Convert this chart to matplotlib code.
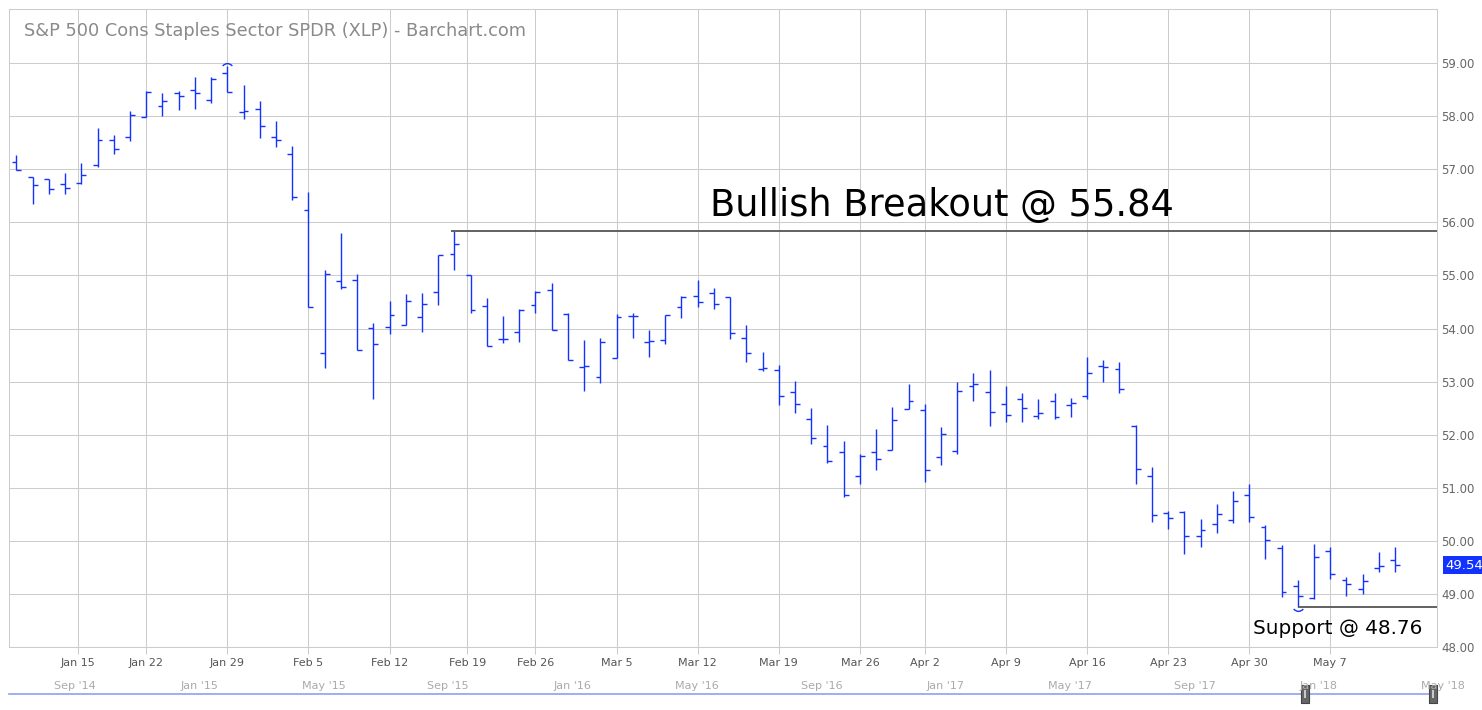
import numpy as np
import pandas as pd
import matplotlib
matplotlib.use("Agg")
import matplotlib.pyplot as plt
from matplotlib.path import Path

# XLP daily bars, Jan 9 - May 11 2018
dates = pd.to_datetime([
    "2018-01-09", "2018-01-10", "2018-01-11", "2018-01-12",
    "2018-01-16", "2018-01-17", "2018-01-18", "2018-01-19",
    "2018-01-22", "2018-01-23", "2018-01-24", "2018-01-25", "2018-01-26",
    "2018-01-29", "2018-01-30", "2018-01-31", "2018-02-01", "2018-02-02",
    "2018-02-05", "2018-02-06", "2018-02-07", "2018-02-08", "2018-02-09",
    "2018-02-12", "2018-02-13", "2018-02-14", "2018-02-15", "2018-02-16",
    "2018-02-20", "2018-02-21", "2018-02-22", "2018-02-23",
    "2018-02-26", "2018-02-27", "2018-02-28", "2018-03-01", "2018-03-02",
    "2018-03-05", "2018-03-06", "2018-03-07", "2018-03-08", "2018-03-09",
    "2018-03-12", "2018-03-13", "2018-03-14", "2018-03-15", "2018-03-16",
    "2018-03-19", "2018-03-20", "2018-03-21", "2018-03-22", "2018-03-23",
    "2018-03-26", "2018-03-27", "2018-03-28", "2018-03-29",
    "2018-04-02", "2018-04-03", "2018-04-04", "2018-04-05", "2018-04-06",
    "2018-04-09", "2018-04-10", "2018-04-11", "2018-04-12", "2018-04-13",
    "2018-04-16", "2018-04-17", "2018-04-18", "2018-04-19", "2018-04-20",
    "2018-04-23", "2018-04-24", "2018-04-25", "2018-04-26", "2018-04-27",
    "2018-04-30", "2018-05-01", "2018-05-02", "2018-05-03", "2018-05-04",
    "2018-05-07", "2018-05-08", "2018-05-09", "2018-05-10", "2018-05-11",
])

opens = [57.13, 56.85, 56.82, 56.72, 56.75, 57.09, 57.55, 57.60,
         57.99, 58.19, 58.43, 58.49, 58.31, 58.81, 58.08, 58.13, 57.60, 57.28,
         56.23, 53.53, 54.89, 54.91, 54.01, 54.03, 54.06, 54.22, 54.68, 55.40,
         55.00, 54.42, 53.80, 53.93, 54.44, 54.72, 54.28, 53.27, 53.08,
         53.44, 54.23, 53.74, 53.78, 54.40, 54.61, 54.66, 54.59, 53.83, 53.24,
         53.22, 52.80, 52.29, 51.78, 51.67, 51.23, 51.67, 51.72, 52.48,
         52.46, 51.58, 51.69, 52.91, 52.80, 52.57, 52.68, 52.35, 52.63, 52.55,
         52.72, 53.29, 53.23, 52.16, 51.22, 50.52, 50.54, 50.09, 50.32, 50.39,
         50.86, 50.26, 49.86, 49.14, 48.93, 49.81, 49.27, 49.09, 49.48, 49.64]
highs = [57.27, 56.85, 56.82, 56.93, 57.12, 57.78, 57.64, 58.10,
         58.47, 58.44, 58.47, 58.74, 58.73, 58.94, 58.59, 58.28, 57.91, 57.44,
         56.57, 55.11, 55.80, 55.02, 54.10, 54.52, 54.65, 54.67, 55.38, 55.84,
         55.00, 54.57, 54.23, 54.36, 54.71, 54.86, 54.30, 53.78, 53.82,
         54.27, 54.29, 53.97, 54.25, 54.61, 54.91, 54.76, 54.59, 54.07, 53.56,
         53.31, 53.01, 52.50, 52.18, 51.88, 51.64, 52.11, 52.53, 52.95,
         52.58, 52.14, 53.00, 53.16, 53.22, 52.92, 52.78, 52.67, 52.78, 52.69,
         53.46, 53.41, 53.37, 52.19, 51.39, 50.57, 50.57, 50.41, 50.69, 50.94,
         51.08, 50.29, 49.92, 49.26, 49.94, 49.88, 49.31, 49.37, 49.79, 49.88]
lows = [56.98, 56.34, 56.54, 56.54, 56.73, 57.05, 57.29, 57.54,
        57.99, 58.01, 58.12, 58.14, 58.25, 58.45, 57.95, 57.59, 57.42, 56.43,
        54.41, 53.25, 54.74, 53.59, 52.67, 53.90, 54.06, 53.94, 54.45, 55.11,
        54.29, 53.68, 53.73, 53.75, 54.30, 53.97, 53.40, 52.83, 52.98,
        53.44, 53.83, 53.47, 53.71, 54.20, 54.41, 54.37, 53.81, 53.37, 53.20,
        52.55, 52.41, 51.83, 51.47, 50.82, 51.08, 51.34, 51.72, 52.48,
        51.11, 51.42, 51.64, 52.64, 52.17, 52.24, 52.24, 52.30, 52.30, 52.34,
        52.67, 53.00, 52.79, 51.08, 50.35, 50.22, 49.76, 49.89, 50.15, 50.34,
        50.36, 49.66, 48.94, 48.76, 48.90, 49.28, 48.97, 49.00, 49.42, 49.41]
closes = [56.98, 56.70, 56.62, 56.64, 56.90, 57.55, 57.38, 58.02,
          58.46, 58.28, 58.39, 58.43, 58.71, 58.46, 58.10, 57.81, 57.56, 56.47,
          54.41, 55.02, 54.78, 53.59, 53.71, 54.25, 54.51, 54.47, 55.38, 55.59,
          54.35, 53.68, 53.81, 54.35, 54.68, 53.97, 53.40, 53.29, 53.74,
          54.21, 54.24, 53.76, 54.25, 54.59, 54.50, 54.46, 53.91, 53.53, 53.25,
          52.73, 52.57, 51.93, 51.50, 50.86, 51.60, 51.55, 52.27, 52.63,
          51.33, 52.01, 52.82, 52.95, 52.42, 52.38, 52.50, 52.40, 52.33, 52.60,
          53.16, 53.27, 52.87, 51.35, 50.48, 50.43, 50.10, 50.20, 50.51, 50.76,
          50.44, 50.01, 49.03, 48.97, 49.69, 49.37, 49.18, 49.24, 49.53, 49.54]

week_labels = ["Jan 15", "Jan 22", "Jan 29", "Feb 5", "Feb 12", "Feb 19",
               "Feb 26", "Mar 5", "Mar 12", "Mar 19", "Mar 26", "Apr 2",
               "Apr 9", "Apr 16", "Apr 23", "Apr 30", "May 7"]
week_dates = pd.to_datetime(["2018-01-15", "2018-01-22", "2018-01-29",
                             "2018-02-05", "2018-02-12", "2018-02-19",
                             "2018-02-26", "2018-03-05", "2018-03-12",
                             "2018-03-19", "2018-03-26", "2018-04-02",
                             "2018-04-09", "2018-04-16", "2018-04-23",
                             "2018-04-30", "2018-05-07"])

nav_labels = ["Sep '14", "Jan '15", "May '15", "Sep '15", "Jan '16", "May '16",
              "Sep '16", "Jan '17", "May '17", "Sep '17", "Jan '18", "May '18"]

breakout = 55.84
support = 48.76
last_price = 49.54

bar_color = "#1232ff"
grid_color = "#cccccc"

idx = np.arange(len(dates))
opens = np.array(opens)
highs = np.array(highs)
lows = np.array(lows)
closes = np.array(closes)

# week ticks: first trading day of the week, nudged left if Monday was a holiday
tick_pos = []
for d in week_dates:
    i = int(np.searchsorted(dates.values, np.datetime64(d)))
    tick_pos.append(i if dates[i] == d else i - 0.2)

W, H = 1482, 710
fig = plt.figure(figsize=(W / 100, H / 100), dpi=100)
ax = fig.add_axes([9 / W, 1 - 647 / H, (1437 - 9) / W, (647 - 9) / H])

# OHLC bars
ax.vlines(idx, lows, highs, color=bar_color, linewidth=1.0)
ax.hlines(opens, idx - 0.3, idx, color=bar_color, linewidth=1.0)
ax.hlines(closes, idx, idx + 0.3, color=bar_color, linewidth=1.0)

# little arcs marking the high and low of the period
arc_up = Path([(-1, -0.3), (0, 0.7), (1, -0.3)], [Path.MOVETO, Path.CURVE3, Path.CURVE3])
arc_dn = Path([(-1, 0.3), (0, -0.7), (1, 0.3)], [Path.MOVETO, Path.CURVE3, Path.CURVE3])
hi = int(np.argmax(highs))
lo = int(np.argmin(lows))
ax.plot([hi], [highs[hi] + 0.05], marker=arc_up, ms=7, mfc="none", mec=bar_color, mew=1.0)
ax.plot([lo], [lows[lo] - 0.07], marker=arc_dn, ms=7, mfc="none", mec=bar_color, mew=1.0)

xmin, xmax = -0.46, 87.58
ax.set_xlim(xmin, xmax)
ax.set_ylim(48, 60.02)

# breakout / support lines
ax.hlines(breakout, 27 - 0.2, xmax, color="#555555", linewidth=1.3)
ax.hlines(support, lo, xmax, color="#555555", linewidth=1.3)
ax.text(42.75, 56.12, "Bullish Breakout @ %.2f" % breakout, fontsize=26.5,
        color="black", ha="left", va="baseline")
ax.text(76.23, 48.245, "Support @ %.2f" % support, fontsize=14.4,
        color="black", ha="left", va="baseline")

# axes styling
ax.set_xticks(tick_pos)
ax.set_xticklabels(week_labels)
ax.set_yticks(np.arange(48, 60))
ax.set_yticklabels(["%.2f" % v for v in np.arange(48, 60)])
ax.yaxis.tick_right()
ax.grid(True, color=grid_color, linewidth=0.75)
ax.set_axisbelow(True)
ax.tick_params(axis="x", length=5, width=0.75, color=grid_color, pad=3,
               labelsize=8, labelcolor="#555555")
ax.tick_params(axis="y", length=0, pad=3, labelsize=8.5, labelcolor="#666666")
for s in ax.spines.values():
    s.set_color(grid_color)
    s.set_linewidth(0.75)

ax.text(15 / 1428, (647 - 36.5) / 638, "S&P 500 Cons Staples Sector SPDR (XLP) - Barchart.com",
        transform=ax.transAxes, fontsize=12.75, color="#8a8a8a", ha="left", va="baseline")

# last price tag
ax.annotate("%.2f" % last_price, xy=(1, last_price), xycoords=("axes fraction", "data"),
            xytext=(6, 0), textcoords="offset points", fontsize=9.5, color="white",
            ha="left", va="center",
            bbox=dict(boxstyle="square,pad=0.2", fc=bar_color, ec="none"),
            annotation_clip=False)

# navigator strip at the bottom
nav = fig.add_axes([0, 1 - 705 / H, 1, 30 / H])
nav.set_xlim((0 - 75) / 31.1, (W - 75) / 31.1)
nav.set_ylim(0, 1)
nav.axis("off")
for k, lab in enumerate(nav_labels):
    nav.text(4 * k, 0.63, lab, fontsize=8, color="#aaaaaa", ha="center", va="center")
nav.plot([(9 - 75) / 31.1, (1437 - 75) / 31.1], [0.37, 0.37], color="#8fa0f2", linewidth=1.2)
handle = Path([(-0.45, -1), (0.45, -1), (0.45, 1), (-0.45, 1), (-0.45, -1)])
for hx in [39.55, 43.66]:
    nav.plot([hx], [0.37], marker=handle, ms=13, mfc="#666666", mec="#444444", mew=0.8)
    nav.plot([hx], [0.37], marker="|", ms=6, color="#dddddd", mew=1.2)

fig.savefig("out.png", dpi=100)
